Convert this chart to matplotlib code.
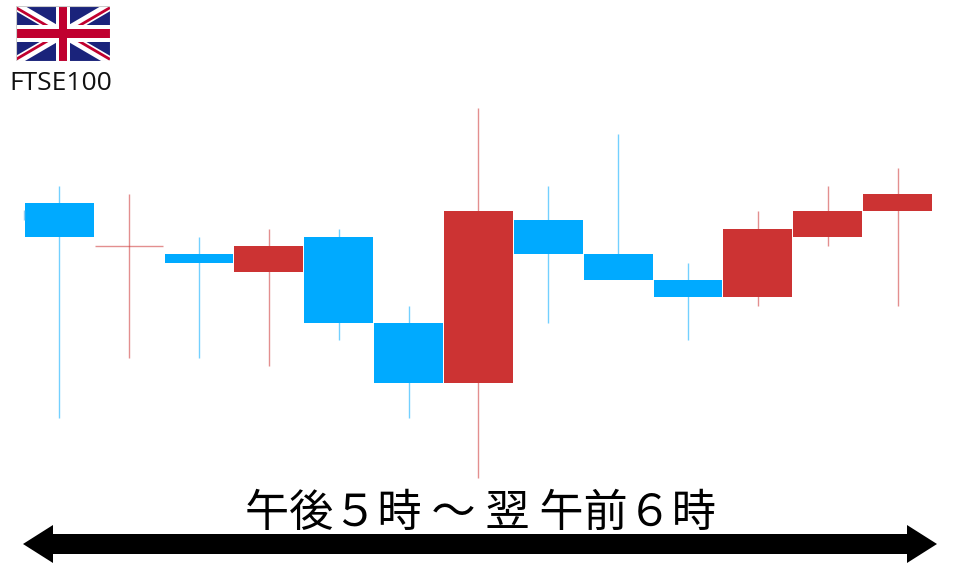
import matplotlib
matplotlib.use("Agg")
import matplotlib.pyplot as plt
from matplotlib.patches import Polygon, Rectangle

plt.rcParams['font.family'] = ['Noto Sans CJK JP', 'DejaVu Sans']

# Candle values, in arbitrary index units (no scale is shown on the chart)
opens  = [21, 16, 15, 13, 17, 7, 0, 19, 15, 12, 10, 17, 20]
closes = [17, 16, 14, 16, 7, 0, 20, 15, 12, 10, 18, 20, 22]
highs  = [23, 22, 17, 18, 18, 9, 32, 23, 29, 14, 20, 23, 25]
lows   = [-4, 3, 3, 2, 5, -4, -11, 7, 15, 5, 9, 16, 9]
index_label = "FTSE100"
session_label = "午後５時 ～ 翌 午前６時"

UP, DOWN = "#cc3333", "#00aaff"
W, H = 960, 567
fig = plt.figure(figsize=(W / 100, H / 100), dpi=100, facecolor="white")

ax = fig.add_axes([0, 0, 1, 1])
x0, dx, y0, dy = 59.2, 69.87, 383.4, 8.6
ax.set_xlim(-x0 / dx, (W - x0) / dx)
ax.set_ylim((y0 - H) / dy, y0 / dy)
ax.axis("off")

for i, (o, c, h, l) in enumerate(zip(opens, closes, highs, lows)):
    col = UP if c >= o else DOWN
    ax.vlines(i, l, h, color=col, lw=1, alpha=0.55, zorder=1)
    if o == c:
        ax.hlines(o, i - 0.49, i + 0.49, color=col, lw=1, alpha=0.55, zorder=1)
    else:
        ax.bar(i, abs(o - c), bottom=min(o, c), width=0.985, color=col,
               edgecolor="none", zorder=2)

# pixel-space overlay for annotations
ov = fig.add_axes([0, 0, 1, 1], facecolor="none")
ov.set_xlim(0, W)
ov.set_ylim(H, 0)
ov.axis("off")

ov.vlines(23.5, 210, 220, color="#8fc8ee", lw=1)

ov.text(61, 84, index_label, ha="center", va="center", fontsize=19,
        family=["Open Sans", "DejaVu Sans"], color="#111111")
ov.text(480.5, 512.5, session_label, ha="center", va="center", fontsize=31.8, color="black")

ov.add_patch(Polygon([(23, 544), (53, 525), (53, 534), (907, 534), (907, 525),
                      (937, 544), (907, 563), (907, 554), (53, 554), (53, 563)],
                     closed=True, fc="black", ec="none"))

# Union Jack
fl = fig.add_axes([16 / W, 1 - 61 / H, 94 / W, 55 / H])
fl.axis("off")
fl.add_patch(Rectangle((0, 0), 60, 30, fc="#1a237b", ec="none"))
fl.plot([0, 60], [0, 30], color="white", lw=6.5, solid_capstyle="butt")
fl.plot([0, 60], [30, 0], color="white", lw=6.5, solid_capstyle="butt")
fl.set_xlim(0, 60)
fl.set_ylim(0, 30)
red = "#c0002f"
off = 0.9
fl.plot([0, 30], [30 - off, 15 - off], color=red, lw=2, solid_capstyle="butt")
fl.plot([60, 30], [0 + off, 15 + off], color=red, lw=2, solid_capstyle="butt")
fl.plot([60, 30], [30 - off, 15 - off], color=red, lw=2, solid_capstyle="butt")
fl.plot([0, 30], [0 + off, 15 + off], color=red, lw=2, solid_capstyle="butt")
fl.add_patch(Rectangle((25.5, 0), 9, 30, fc="white", ec="none", zorder=3))
fl.add_patch(Rectangle((0, 10.2), 60, 9.6, fc="white", ec="none", zorder=3))
fl.add_patch(Rectangle((27.3, 0), 5.4, 30, fc=red, ec="none", zorder=4))
fl.add_patch(Rectangle((0, 12.5), 60, 5, fc=red, ec="none", zorder=4))
fl.add_patch(Rectangle((0, 0), 60, 30, fc="none", ec="#cccccc", lw=0.8, zorder=5, clip_on=True))

fig.savefig("out.png", dpi=100, facecolor="white")
